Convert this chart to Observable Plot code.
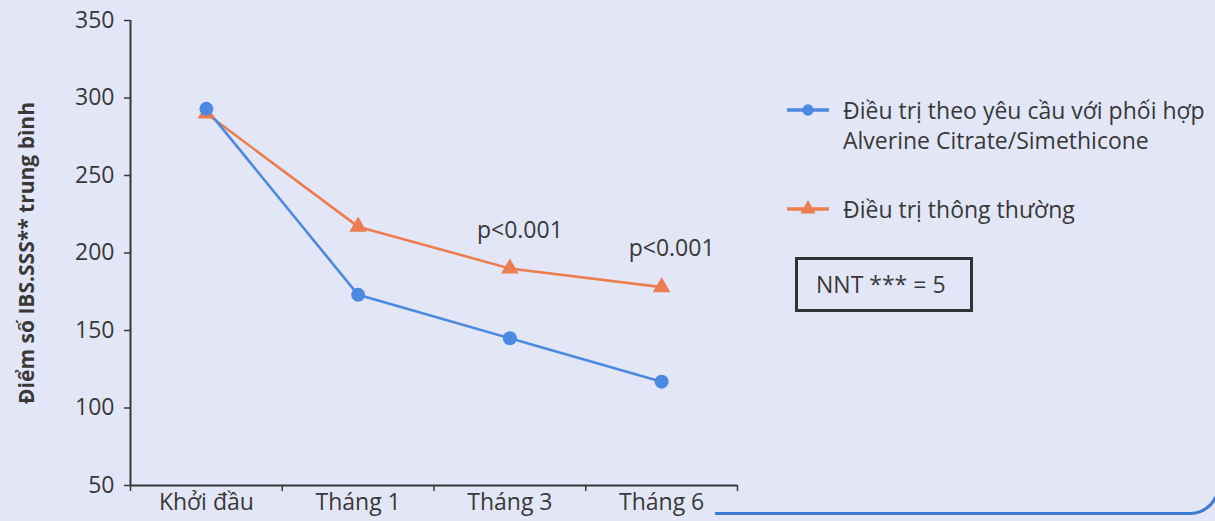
<!DOCTYPE html>
<html>
<head>
<meta charset="utf-8">
<script src="https://cdn.jsdelivr.net/npm/d3@7"></script>
<script src="https://cdn.jsdelivr.net/npm/@observablehq/plot@0.6"></script>
<style>
  html, body { margin: 0; padding: 0; }
  body { width: 1215px; height: 521px; background: #e3e6f6; position: relative; overflow: hidden;
         font-family: "Open Sans", "Noto Sans", sans-serif; color: #383838; }
  #chart { position: absolute; left: 0; top: 0; }
  .legend { position: absolute; left: 785px; top: 95px; font-size: 23px; line-height: 30px; }
  .item { position: relative; padding-left: 58px; margin-bottom: 39px; }
  .item svg { position: absolute; left: 0; top: 6px; }
  .nnt { position: absolute; left: 795px; top: 257px; width: 178px; height: 55px; border: 3px solid #333;
         box-sizing: border-box; font-size: 23px; line-height: 48px; padding-left: 18px; }
  .frame { position: absolute; left: 715px; top: -40px; width: 505px; height: 555px; box-sizing: border-box;
           border-bottom: 3px solid #3b7ad6; border-right: 3px solid #3b7ad6; border-bottom-right-radius: 30px; }
</style>
</head>
<body>
<div id="chart"></div>
<div class="frame"></div>
<div class="legend" id="legend"></div>
<div class="nnt" id="nnt"></div>
<script>
const months = ["Khởi đầu", "Tháng 1", "Tháng 3", "Tháng 6"];
const alverine = [293, 173, 145, 117];
const usual = [290, 217, 190, 178];
const pLabels = ["", "", "p<0.001", "p<0.001"];
const yTicks = [50, 100, 150, 200, 250, 300, 350];
const seriesNames = ["Điều trị theo yêu cầu với phối hợp\nAlverine Citrate/Simethicone", "Điều trị thông thường"];
const yTitle = "Điểm số IBS.SSS** trung bình";
const nntText = "NNT *** = 5";

const blue = "#4b89e2";
const orange = "#ec7d4e";
const ink = "#383838";

const rowsA = months.map((m, i) => ({i: i + 0.5, month: m, v: alverine[i]}));
const rowsU = months.map((m, i) => ({i: i + 0.5, month: m, v: usual[i], p: pLabels[i]}));
const bounds = d3.range(months.length + 1);
const centers = months.map((m, i) => i + 0.5);

const chart = Plot.plot({
  width: 760,
  height: 521,
  marginLeft: 130,
  marginRight: 23,
  marginTop: 20,
  marginBottom: 36,
  style: {background: "transparent", fontFamily: "'Open Sans', 'Noto Sans', sans-serif", color: ink},
  x: {type: "linear", domain: [0, months.length]},
  y: {domain: [50, 350]},
  marks: [
    Plot.axisY({ticks: yTicks, tickSize: 6, tickPadding: 10, fontSize: 23, label: null, stroke: ink, strokeWidth: 1.5}),
    Plot.text([yTitle], {frameAnchor: "left", textAnchor: "middle", dx: -103, rotate: -90, fontSize: 21, fontWeight: "bold", fill: ink}),
    Plot.axisX({ticks: bounds, tickSize: 6, tickFormat: () => "", label: null, stroke: ink, strokeWidth: 1.5}),
    Plot.axisX({ticks: centers, tickSize: 0, tickPadding: 8, fontSize: 23, tickFormat: d => months[Math.floor(d)], label: null}),
    Plot.ruleX([0], {stroke: ink, strokeWidth: 2}),
    Plot.ruleY([50], {stroke: ink, strokeWidth: 2}),
    Plot.line(rowsU, {x: "i", y: "v", stroke: orange, strokeWidth: 2.6}),
    Plot.line(rowsA, {x: "i", y: "v", stroke: blue, strokeWidth: 2.6}),
    Plot.dot(rowsU, {x: "i", y: "v", symbol: "triangle", r: 6.5, fill: orange}),
    Plot.dot(rowsA, {x: "i", y: "v", r: 7, fill: blue}),
    Plot.text(rowsU.filter(d => d.p), {x: "i", y: "v", text: "p", dy: -38, dx: 10, fontSize: 23, fill: ink})
  ]
});
document.getElementById("chart").appendChild(chart);

// Legend
const legend = document.getElementById("legend");
const colors = [blue, orange];
const symbols = [d3.symbolCircle, d3.symbolTriangle];
seriesNames.forEach((name, k) => {
  const item = document.createElement("div");
  item.className = "item";
  const sw = d3.create("svg").attr("width", 46).attr("height", 18);
  sw.append("line").attr("x1", 2).attr("x2", 44).attr("y1", 9).attr("y2", 9)
    .attr("stroke", colors[k]).attr("stroke-width", 3.5);
  sw.append("path").attr("d", d3.symbol(symbols[k], 100)()).attr("transform", "translate(23,9)").attr("fill", colors[k]);
  item.appendChild(sw.node());
  name.split("\n").forEach(line => {
    const span = document.createElement("div");
    span.textContent = line;
    item.appendChild(span);
  });
  legend.appendChild(item);
});
document.getElementById("nnt").textContent = nntText;
</script>
</body>
</html>
